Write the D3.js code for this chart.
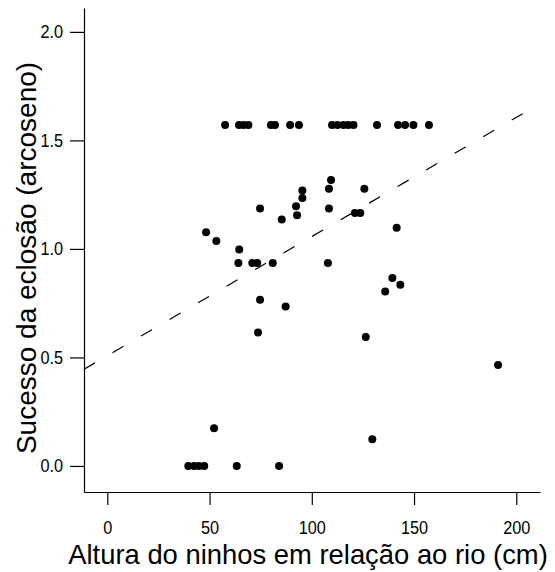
<!DOCTYPE html>
<html>
<head>
<meta charset="utf-8">
<script src="https://cdn.jsdelivr.net/npm/d3@7"></script>
<style>
  html, body { margin: 0; padding: 0; background: #fff; }
  svg text { font-family: "Liberation Sans", Arial, Helvetica, sans-serif; fill: #000; }
</style>
</head>
<body>
<svg id="chart" width="555" height="572"></svg>
<script>
// Nest height above the river (cm)
const nestHeight = [
  57.6, 64.4, 66.6, 69.0, 80.0, 82.0, 89.4, 93.7, 109.9, 112.5, 115.5, 117.9, 120.4, 131.9, 142.2, 145.6, 149.7, 157.3,
  109.4, 108.4, 95.4, 95.4, 125.7, 74.7, 92.3, 92.8, 108.4, 121.1, 123.7, 85.3, 141.5, 48.3, 53.3, 64.5,
  64.1, 70.9, 73.3, 80.9, 107.9, 139.4, 143.3, 135.9, 74.7, 87.2, 73.7, 126.4, 191.1, 52.2, 129.6,
  39.6, 42.4, 44.8, 47.4, 63.3, 84.0
];
// Hatching success (arcsine transformed)
const hatchSuccess = [
  1.571, 1.571, 1.571, 1.571, 1.571, 1.571, 1.571, 1.571, 1.571, 1.571, 1.571, 1.571, 1.571, 1.571, 1.571, 1.571, 1.571, 1.571,
  1.317, 1.277, 1.269, 1.235, 1.277, 1.186, 1.197, 1.155, 1.186, 1.166, 1.166, 1.135, 1.097, 1.077, 1.037, 0.997,
  0.935, 0.935, 0.935, 0.935, 0.935, 0.866, 0.835, 0.804, 0.766, 0.735, 0.615, 0.594, 0.465, 0.174, 0.123,
  0, 0, 0, 0, 0, 0
];
// Fitted linear trend
const fitIntercept = 0.508;
const fitSlope = 0.00549;
const fitRange = [-11.4, 203.5];

const xTicks = [0, 50, 100, 150, 200];
const yTicks = [0, 0.5, 1, 1.5, 2];

const svg = d3.select("#chart");

const x = d3.scaleLinear().domain([-11.4, 211.6]).range([84, 540]);
const y = d3.scaleLinear().domain([-0.12, 2.11]).range([492, 8]);

// Axes
const xAxis = d3.axisBottom(x)
  .tickValues(xTicks)
  .tickFormat(d3.format("d"))
  .tickSizeInner(13).tickSizeOuter(0).tickPadding(16);
const gx = svg.append("g").attr("transform", "translate(0,492)").call(xAxis);

const yAxis = d3.axisLeft(y)
  .tickValues(yTicks)
  .tickFormat(d3.format(".1f"))
  .tickSizeInner(14).tickSizeOuter(0).tickPadding(7);
const gy = svg.append("g").attr("transform", "translate(84,0)").call(yAxis);

[gx, gy].forEach(g => {
  g.selectAll("path.domain").attr("stroke", "#000").attr("stroke-width", 1.2);
  g.selectAll(".tick line").attr("stroke", "#000").attr("stroke-width", 1.2);
  g.selectAll(".tick text").attr("font-size", 18.5)
    .style("font-family", '"Liberation Sans", Arial, Helvetica, sans-serif').attr("fill", "#000");
});

// Slightly narrow tick labels, keeping each label's anchor in place
gx.selectAll(".tick text")
  .attr("transform", "scale(0.88,1)");
gy.selectAll(".tick text").each(function () {
  const t = d3.select(this);
  const ax = +t.attr("x");
  t.attr("x", 0).attr("transform", `translate(${ax},0) scale(0.88,1)`);
});

// Trend line
svg.append("line")
  .attr("x1", x(fitRange[0])).attr("y1", y(fitIntercept + fitSlope * fitRange[0]))
  .attr("x2", x(fitRange[1])).attr("y2", y(fitIntercept + fitSlope * fitRange[1]))
  .attr("stroke", "#000").attr("stroke-width", 1.2)
  .attr("stroke-dasharray", "12.7,20.3");

// Points
svg.append("g").selectAll("circle")
  .data(nestHeight.map((h, i) => [h, hatchSuccess[i]]))
  .join("circle")
  .attr("cx", d => x(d[0]))
  .attr("cy", d => y(d[1]))
  .attr("r", 4)
  .attr("fill", "#000");

// Axis titles
svg.append("text")
  .attr("x", 308).attr("y", 564)
  .attr("text-anchor", "middle")
  .attr("font-size", 27.4)
  .text("Altura do ninhos em relação ao rio (cm)");

svg.append("text")
  .attr("transform", "translate(36,258) rotate(-90)")
  .attr("text-anchor", "middle")
  .attr("font-size", 28)
  .text("Sucesso da eclosão (arcoseno)");
</script>
</body>
</html>
